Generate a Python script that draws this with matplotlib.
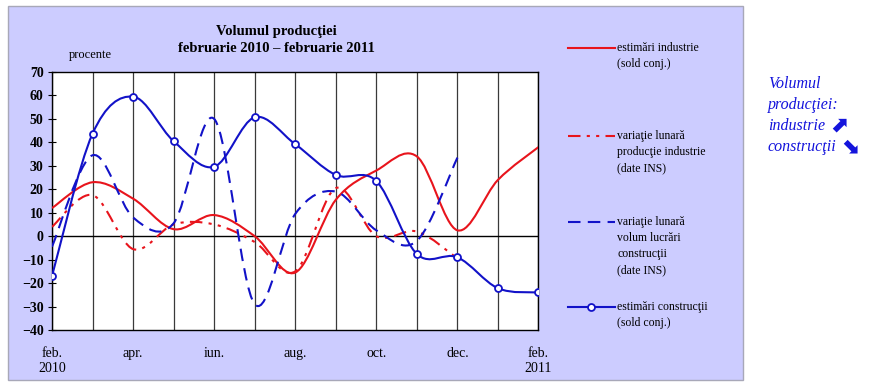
import numpy as np
import matplotlib
matplotlib.use("Agg")

import matplotlib.pyplot as plt
from matplotlib.path import Path
from matplotlib.patches import PathPatch, Rectangle
from matplotlib.lines import Line2D

# months feb 2010 .. feb 2011
months = list(range(13))
tick_labels = ["feb.\n2010", "", "apr.", "", "iun.", "", "aug.", "", "oct.", "",
               "dec.", "", "feb.\n2011"]

ind_est = [12, 23, 16, 3, 9, 0, -15.5, 15.5, 28, 34, 2.5, 24, 38]
ind_ins = [4, 17.5, -5.5, 5, 5, -2.5, -15, 20.5, 0, 2, -9.5]          # feb-dec 2010
constr_ins = [-4.5, 34.5, 8, 5.5, 50, -29, 9.5, 19, 2.5, -2, 33.5]     # feb-dec 2010
constr_est = [-17, 43.7, 59.5, 40.5, 29.6, 50.7, 39.2, 26.1, 23.5, -7.6, -9, -22.2, -24]

labels = ["estimări industrie\n(sold conj.)",
          "variaţie lunară\nproducţie industrie\n(date INS)",
          "variaţie lunară\nvolum lucrări\nconstrucţii\n(date INS)",
          "estimări construcţii\n(sold conj.)"]

RED = "#e8141c"
BLUE = "#1212c8"
SERIF = ["Liberation Serif", "DejaVu Serif"]

plt.rcParams["font.family"] = SERIF


def smooth_path(xs, ys):
    # excel-like smoothed line: cubic bezier through every point
    pts = np.column_stack([xs, ys]).astype(float)
    n = len(pts)
    verts = [pts[0]]
    codes = [Path.MOVETO]
    for i in range(n - 1):
        p0 = pts[i - 1] if i > 0 else pts[i]
        p1, p2 = pts[i], pts[i + 1]
        p3 = pts[i + 2] if i + 2 < n else pts[i + 1]
        verts += [p1 + (p2 - p0) / 6, p2 - (p3 - p1) / 6, p2]
        codes += [Path.CURVE4] * 3
    return Path(verts, codes)


W, H = 877, 388
fig = plt.figure(figsize=(W / 100, H / 100), dpi=100)
fig.patch.set_facecolor("white")
fig.add_artist(Rectangle((8 / W, 1 - 380 / H), 735 / W, 374 / H, transform=fig.transFigure,
                         facecolor="#ccccff", edgecolor="#a8a8b8", lw=1, zorder=-1))

ax = fig.add_axes([52 / W, 1 - 330 / H, 486.5 / W, 258 / H])
ax.set_facecolor("white")

for m in months:
    ax.axvline(m, color="#3a3a3a", lw=0.9, zorder=1)
ax.axhline(0, color="black", lw=1.0, zorder=1)

styles = [
    (months, ind_est, dict(color=RED, lw=1.5, ls="-")),
    (months[:len(ind_ins)], ind_ins, dict(color=RED, lw=1.5, ls=(0, (6, 3, 1.5, 3, 1.5, 3)))),
    (months[:len(constr_ins)], constr_ins, dict(color=BLUE, lw=1.5, ls=(0, (6, 3.5)))),
    (months, constr_est, dict(color=BLUE, lw=1.5, ls="-")),
]
for xs, ys, st in styles:
    ax.add_patch(PathPatch(smooth_path(xs, ys), fill=False, edgecolor=st["color"],
                           lw=st["lw"], ls=st["ls"], zorder=3, capstyle="butt"))
ax.plot(months, constr_est, ls="none", marker="o", ms=5, mfc="white", mec=BLUE,
        mew=1.3, zorder=4)

ax.set_xlim(0, 12)
ax.set_ylim(-40, 70)
ax.set_yticks(range(-40, 71, 10))
ax.set_xticks(months)
ax.set_xticklabels(tick_labels)
ax.tick_params(axis="x", length=0, pad=12, labelsize=10)
ax.tick_params(axis="y", direction="inout", length=6, pad=3, labelsize=10)
for lab in ax.get_yticklabels():
    lab.set_fontweight("bold")
for s in ax.spines.values():
    s.set_color("black")
    s.set_linewidth(1.0)

fig.text(276 / W, 1 - 31 / H, "Volumul producţiei", ha="center", va="center",
         fontsize=10.5, fontweight="bold")
fig.text(276 / W, 1 - 49 / H, "februarie 2010 – februarie 2011", ha="center", va="center",
         fontsize=10.5, fontweight="bold")
fig.text(90 / W, 1 - 55 / H, "procente", ha="center", va="center", fontsize=9)

# legend on the right side of the panel
leg_y = [48, 136, 222, 307]
for (xs, ys, st), y, lab in zip(styles, leg_y, labels):
    yf = 1 - y / H
    fig.add_artist(Line2D([568 / W, 615 / W], [yf, yf], color=st["color"], lw=st["lw"],
                          ls=st["ls"], transform=fig.transFigure))
    fig.text(617 / W, yf + 6 / H, lab, ha="left", va="top", fontsize=8.5, linespacing=1.45)
fig.add_artist(Line2D([591 / W], [1 - 307 / H], ls="none", marker="o", ms=5, mfc="white",
                      mec=BLUE, mew=1.3, transform=fig.transFigure))

# note to the right of the panel
side = [("Volumul", 84, None), ("producţiei:", 105, None),
        ("industrie", 126, "⬈"), ("construcţii", 147, "⬊")]
for txt, y, arrow in side:
    t = fig.text(768 / W, 1 - y / H, txt, ha="left", va="center", fontsize=11.5,
                 style="italic", color="#1414dc")
    if arrow:
        fig.canvas.draw()
        bb = t.get_window_extent()
        fig.text((bb.x1 + 4) / W, 1 - (y - 1) / H, arrow, ha="left", va="center",
                 fontsize=16, fontweight="bold", color="#1414dc", family=["DejaVu Sans"])

fig.savefig("out.png", dpi=100)
